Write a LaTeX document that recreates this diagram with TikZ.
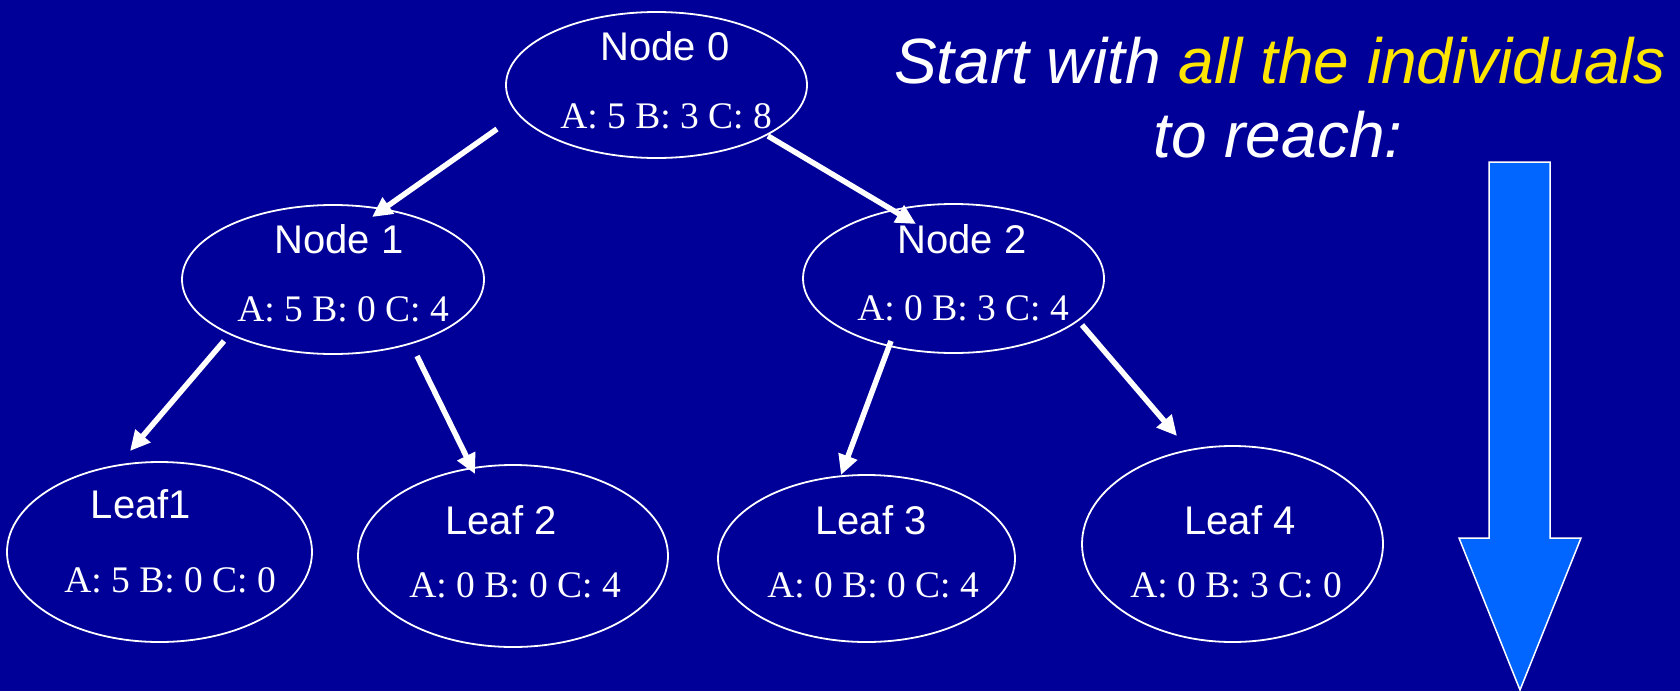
\documentclass[tikz,border=0pt]{standalone}
\usepackage{fontspec}
\setmainfont{Liberation Serif}
\newfontfamily\labelfont{Liberation Sans}
\usetikzlibrary{shapes.geometric,arrows.meta}
\definecolor{slidebg}{RGB}{0,0,153}
\definecolor{hiyellow}{RGB}{255,230,0}
\definecolor{arrowblue}{RGB}{0,102,255}
\tikzset{
  treenode/.style={draw=white, line width=1.8pt, ellipse, inner sep=0pt},
  nodetitle/.style={anchor=base, text=white, inner sep=0pt,
    font=\labelfont\fontsize{40pt}{48pt}\selectfont},
  counts/.style={anchor=base, text=white, inner sep=0pt,
    font=\fontsize{37.5pt}{45pt}\selectfont},
  branch/.style={draw=white, line width=5.5pt,
    -{Triangle[length=20pt,width=19pt]}},
  heading/.style={anchor=base, text=white, inner sep=0pt,
    font=\labelfont\itshape\fontsize{64pt}{74pt}\selectfont},
}
\begin{document}
\begin{tikzpicture}[x=1pt,y=-1pt]
  % canvas
  \fill[slidebg] (0,0) rectangle (1680,691);
  \useasboundingbox (0,0) rectangle (1680,691);

  % tree nodes
  \node[treenode, minimum width=301pt, minimum height=146pt] (n0) at (656.5,85) {};
  \node[treenode, minimum width=302pt, minimum height=149pt] (n1) at (333,279.5) {};
  \node[treenode, minimum width=301pt, minimum height=149pt] (n2) at (953.5,278.5) {};
  \node[treenode, minimum width=305pt, minimum height=180pt] (l1) at (159.5,552) {};
  \node[treenode, minimum width=310pt, minimum height=182pt] (l2) at (513,556) {};
  \node[treenode, minimum width=297pt, minimum height=167pt] (l3) at (866.5,558.5) {};
  \node[treenode, minimum width=301pt, minimum height=196pt] (l4) at (1232.5,544) {};

  % node names
  \node[nodetitle] (t0) at (665,60) {Node 0};
  \node[nodetitle] (t1) at (339,253) {Node 1};
  \node[nodetitle] (t2) at (962,253) {Node 2};
  \node[nodetitle] (tl1) at (141,518) {Leaf1};
  \node[nodetitle] (tl2) at (501,534) {Leaf 2};
  \node[nodetitle] (tl3) at (871,534) {Leaf 3};
  \node[nodetitle] (tl4) at (1240,534) {Leaf 4};

  % class counts
  \node[counts] (c0) at (666,128) {A: 5 B: 3 C: 8};
  \node[counts] (c1) at (343,321) {A: 5 B: 0 C: 4};
  \node[counts] (c2) at (963,320) {A: 0 B: 3 C: 4};
  \node[counts] (cl1) at (170,592) {A: 5 B: 0 C: 0};
  \node[counts] (cl2) at (515,597) {A: 0 B: 0 C: 4};
  \node[counts] (cl3) at (873,597) {A: 0 B: 0 C: 4};
  \node[counts] (cl4) at (1236,597) {A: 0 B: 3 C: 0};

  % branch end points
  \coordinate (s01) at (497,129);  \coordinate (e01) at (372,217);
  \coordinate (s02) at (768,136);  \coordinate (e02) at (916,224);
  \coordinate (s11) at (224,341);  \coordinate (e11) at (130,451);
  \coordinate (s12) at (417,356);  \coordinate (e12) at (475,474);
  \coordinate (s23) at (891,341);  \coordinate (e23) at (841,475);
  \coordinate (s24) at (1082,325); \coordinate (e24) at (1177,436);

  % branches
  \draw[branch] (s01) -- (e01);
  \draw[branch] (s02) -- (e02);
  \draw[branch] (s11) -- (e11);
  \draw[branch] (s12) -- (e12);
  \draw[branch] (s23) -- (e23);
  \draw[branch] (s24) -- (e24);

  % heading
  \node[heading] (h1) at (1280,83) {Start with \textcolor{hiyellow}{all the individuals}};
  \node[heading] (h2) at (1278,157) {to reach:};

  % downward block arrow
  \draw[draw=white, line width=1.5pt, fill=arrowblue, line join=miter]
    (1489,162) -- (1550,162) -- (1550,538) -- (1581,538) -- (1520,690)
    -- (1459,538) -- (1489,538) -- cycle;
\end{tikzpicture}
\end{document}
